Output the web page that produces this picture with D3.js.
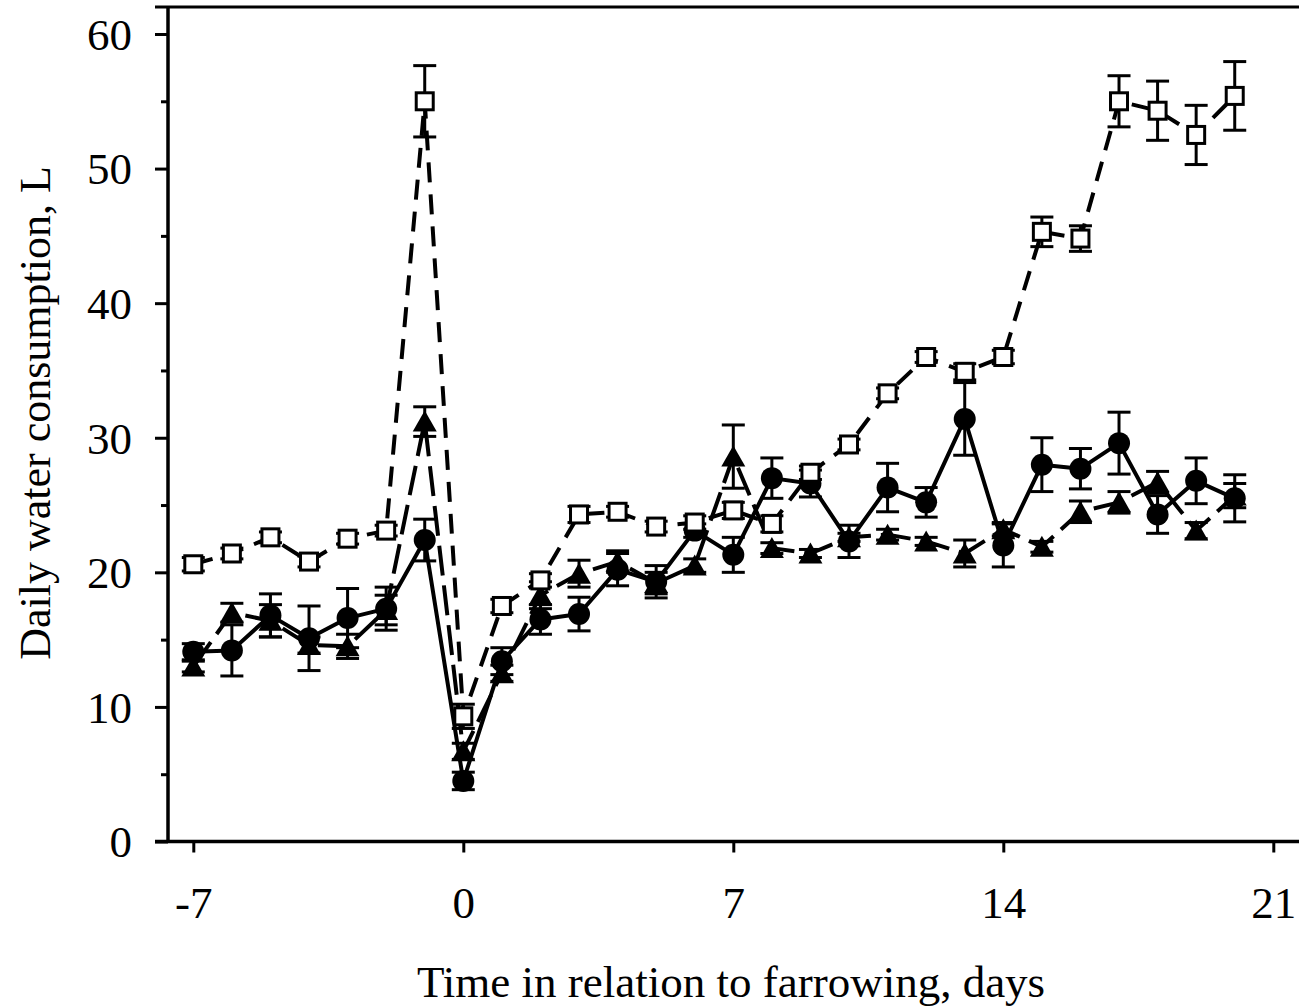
<!DOCTYPE html>
<html>
<head>
<meta charset="utf-8">
<script src="https://cdn.jsdelivr.net/npm/d3@7/dist/d3.min.js"></script>
<style>
  html, body { margin: 0; padding: 0; background: #fff; }
  svg { display: block; }
  text { font-family: "Liberation Serif", "Times New Roman", serif; fill: #000; }
</style>
</head>
<body>
<script>
// Days relative to farrowing
const days = [-7, -6, -5, -4, -3, -2, -1, 0, 1, 2, 3, 4, 5, 6, 7, 8, 9, 10, 11, 12, 13, 14, 15, 16, 17, 18, 19, 20];

// Group means (L/day) and standard errors
const circleMean = [14.1, 14.2, 16.8, 15.1, 16.6, 17.3, 22.4, 4.5, 13.4, 16.5, 16.9, 20.2, 19.3, 23.1, 21.3, 27.0, 26.6, 22.3, 26.3, 25.2, 31.4, 22.0, 28.0, 27.7, 29.6, 24.3, 26.8, 25.5];
const circleSE   = [0.6, 1.9, 1.6, 2.4, 2.2, 1.6, 1.55, 0.65, 1.0, 1.1, 1.25, 1.2, 1.2, 0.5, 1.3, 1.5, 1.0, 1.2, 1.8, 1.1, 2.7, 1.6, 2.0, 1.5, 2.3, 1.4, 1.7, 1.75];

const triMean = [13.0, 17.0, 16.4, 14.6, 14.5, 17.2, 31.2, 6.7, 12.5, 18.3, 19.9, 20.8, 19.2, 20.5, 28.6, 21.8, 21.4, 22.6, 22.8, 22.3, 21.4, 23.2, 21.9, 24.5, 25.2, 26.7, 23.1, 25.7];
const triSE   = [0.4, 0.7, 1.2, 0.6, 0.9, 1.1, 1.1, 0.6, 0.6, 1.0, 1.0, 0.8, 0.8, 0.5, 2.35, 0.4, 0.3, 0.3, 0.4, 0.3, 1.0, 0.5, 0.4, 0.8, 0.8, 0.8, 0.6, 0.9];

const sqMean = [20.6, 21.4, 22.6, 20.8, 22.5, 23.1, 55.0, 9.3, 17.5, 19.4, 24.3, 24.5, 23.4, 23.7, 24.6, 23.6, 27.4, 29.5, 33.3, 36.0, 34.9, 36.0, 45.3, 44.8, 55.0, 54.3, 52.5, 55.4];
const sqSE   = [0.5, 0.4, 0.4, 0.4, 0.4, 0.4, 2.65, 0.9, 0.5, 0.5, 0.6, 0.4, 0.4, 0.5, 0.6, 0.6, 0.5, 0.4, 0.4, 0.4, 0.6, 0.5, 1.1, 0.95, 1.9, 2.2, 2.2, 2.55];

// Axis ticks
const xTicks = [-7, 0, 7, 14, 21];
const yTicks = [0, 10, 20, 30, 40, 50, 60];
const yMinorTicks = [5, 15, 25, 35, 45, 55];

const W = 1299, H = 1006;
const svg = d3.select("body").append("svg").attr("width", W).attr("height", H);

const x = d3.scaleLinear().domain([-7, 21]).range([193.3, 1273.3]);
const y = d3.scaleLinear().domain([0, 60]).range([841.5, 34]);

const axisX = 168, axisY = 841.5, topY = 7, leftEdge = 155;

// Frame: top rule, left axis, bottom axis
svg.append("line").attr("x1", leftEdge).attr("x2", W).attr("y1", topY).attr("y2", topY)
  .attr("stroke", "#000").attr("stroke-width", 3);

const yAxis = d3.axisLeft(y).tickValues(yTicks).tickSize(13).tickPadding(23).tickFormat(d3.format("d"));
const gy = svg.append("g").attr("transform", `translate(${axisX},0)`).call(yAxis);
gy.select(".domain").remove();
gy.selectAll(".tick line").attr("stroke", "#000").attr("stroke-width", 3);
gy.selectAll(".tick text").attr("font-size", 45).attr("font-family", "Liberation Serif").attr("dy", "0.34em");

const yMinor = d3.axisLeft(y).tickValues(yMinorTicks).tickSize(7).tickFormat("");
const gym = svg.append("g").attr("transform", `translate(${axisX},0)`).call(yMinor);
gym.select(".domain").remove();
gym.selectAll(".tick line").attr("stroke", "#000").attr("stroke-width", 3);

svg.append("line").attr("x1", axisX).attr("x2", axisX).attr("y1", topY).attr("y2", axisY)
  .attr("stroke", "#000").attr("stroke-width", 3.5);

const xAxis = d3.axisBottom(x).tickValues(xTicks).tickSize(11).tickPadding(34).tickFormat(d3.format("d"));
const gx = svg.append("g").attr("transform", `translate(0,${axisY})`).call(xAxis);
gx.select(".domain").remove();
gx.selectAll(".tick line").attr("stroke", "#000").attr("stroke-width", 3);
gx.selectAll(".tick text").attr("font-size", 45).attr("font-family", "Liberation Serif");
// plain hyphen for the negative tick
gx.selectAll(".tick text").text(d => String(d));

svg.append("line").attr("x1", leftEdge).attr("x2", W).attr("y1", axisY).attr("y2", axisY)
  .attr("stroke", "#000").attr("stroke-width", 3.5);

// Axis titles
svg.append("text").attr("x", 731).attr("y", 997).attr("text-anchor", "middle")
  .attr("font-size", 45).text("Time in relation to farrowing, days");
svg.append("text").attr("transform", "translate(50,413) rotate(-90)").attr("text-anchor", "middle")
  .attr("font-size", 44).text("Daily water consumption, L");

// Series
const series = [
  { name: "circle", mean: circleMean, se: circleSE, dash: null },
  { name: "triangle", mean: triMean, se: triSE, dash: "30,10" },
  { name: "square", mean: sqMean, se: sqSE, dash: "20,12" }
];

const line = d3.line().x(d => x(d.day)).y(d => y(d.v));
const capHalf = 11.5;

series.forEach(s => {
  const pts = days.map((d, i) => ({ day: d, v: s.mean[i], se: s.se[i] }));
  const g = svg.append("g").attr("class", "series-" + s.name);

  g.append("path").datum(pts).attr("d", line)
    .attr("fill", "none").attr("stroke", "#000").attr("stroke-width", 4)
    .attr("stroke-linejoin", "round")
    .attr("stroke-dasharray", s.dash);

  // Error bars (mean ± SE)
  const eb = g.selectAll("g.eb").data(pts).join("g").attr("class", "eb");
  eb.append("line").attr("x1", d => x(d.day)).attr("x2", d => x(d.day))
    .attr("y1", d => y(d.v + d.se)).attr("y2", d => y(d.v - d.se))
    .attr("stroke", "#000").attr("stroke-width", 3);
  eb.append("line").attr("x1", d => x(d.day) - capHalf).attr("x2", d => x(d.day) + capHalf)
    .attr("y1", d => y(d.v + d.se)).attr("y2", d => y(d.v + d.se))
    .attr("stroke", "#000").attr("stroke-width", 3);
  eb.append("line").attr("x1", d => x(d.day) - capHalf).attr("x2", d => x(d.day) + capHalf)
    .attr("y1", d => y(d.v - d.se)).attr("y2", d => y(d.v - d.se))
    .attr("stroke", "#000").attr("stroke-width", 3);

  // Markers
  if (s.name === "circle") {
    g.selectAll("circle.m").data(pts).join("circle").attr("class", "m")
      .attr("cx", d => x(d.day)).attr("cy", d => y(d.v)).attr("r", 11)
      .attr("fill", "#000");
  } else if (s.name === "triangle") {
    g.selectAll("path.m").data(pts).join("path").attr("class", "m")
      .attr("d", d => {
        const cx = x(d.day), cy = y(d.v);
        return `M${cx},${cy - 11}L${cx + 12},${cy + 10}L${cx - 12},${cy + 10}Z`;
      })
      .attr("fill", "#000");
  } else {
    g.selectAll("rect.m").data(pts).join("rect").attr("class", "m")
      .attr("x", d => x(d.day) - 8.5).attr("y", d => y(d.v) - 8.5)
      .attr("width", 17).attr("height", 17)
      .attr("fill", "#fff").attr("stroke", "#000").attr("stroke-width", 3);
  }
});
</script>
</body>
</html>
